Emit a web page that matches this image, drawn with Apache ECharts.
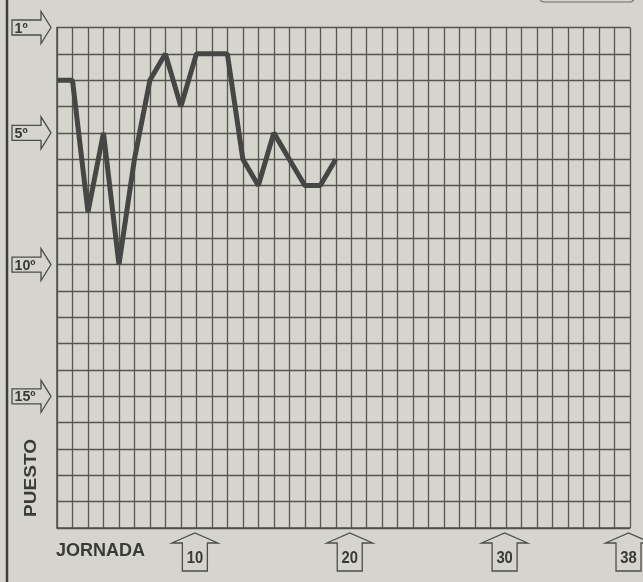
<!DOCTYPE html>
<html>
<head>
<meta charset="utf-8">
<script src="https://cdn.jsdelivr.net/npm/echarts@6/dist/echarts.min.js"></script>
<style>
html,body{margin:0;padding:0;background:#d5d5cd;}
#c{width:643px;height:582px;}
</style>
</head>
<body>
<div id="c"></div>
<script>
// Data
const jornadas = [1,2,3,4,5,6,7,8,9,10,11,12,13,14,15,16,17,18,19];
const puestos  = [3,3,8,5,10,6,3,2,4,2,2,2,6,7,5,6,7,7,6];
const yTickValues = [1,5,10,15];
const yTickLabels = ['1º','5º','10º','15º'];
const xTickValues = [10,20,30,38];
const xTickLabels = ['10','20','30','38'];

const BG = '#d5d5cd';
const TXT = '#3a3a36';
const FONT = "'Liberation Sans',Arial,sans-serif";

const chart = echarts.init(document.getElementById('c'), null, {renderer:'canvas'});

const option = {
  backgroundColor: BG,
  animation: false,
  grid: {left: 57, right: 13, top: 27.5, bottom: 54, containLabel: false},
  xAxis: {
    type: 'value', min: 1, max: 38, interval: 1,
    axisLabel: {show: false}, axisTick: {show: false},
    axisLine: {show: true, lineStyle: {color: '#50504b', width: 1.5}},
    splitLine: {show: true, lineStyle: {color: '#56564f', width: 1.3}}
  },
  yAxis: {
    type: 'value', min: 1, max: 20, interval: 1, inverse: true,
    axisLabel: {show: false}, axisTick: {show: false},
    axisLine: {show: true, lineStyle: {color: '#50504b', width: 1.5}},
    splitLine: {show: true, lineStyle: {color: '#56564f', width: 1.3}}
  },
  graphic: [
    {type: 'line', shape: {x1: 7, y1: 0, x2: 7, y2: 582}, style: {stroke: '#3e3e3a', lineWidth: 2.5}},
    {type: 'rect', shape: {x: 540, y: -20, width: 94, height: 22, r: 4}, style: {fill: 'none', stroke: '#6a6a64', lineWidth: 1.2}},
    {type: 'text', x: 56, y: 551, style: {text: 'JORNADA', font: 'bold 18px ' + FONT, fill: TXT, align: 'left', verticalAlign: 'middle'}},
    {type: 'text', x: 31, y: 478, rotation: Math.PI / 2, scaleX: 1.12,
     style: {text: 'PUESTO', font: 'bold 17px ' + FONT, fill: TXT, align: 'center', verticalAlign: 'middle'}}
  ],
  series: [
    {
      type: 'line',
      data: jornadas.map((j, i) => [j, puestos[i]]),
      symbol: 'none',
      lineStyle: {color: '#464644', width: 5},
      z: 5
    },
    {
      type: 'custom',
      coordinateSystem: 'cartesian2d',
      data: yTickValues.map(v => [1, v]),
      z: 6,
      renderItem: function (params, api) {
        const p = api.coord([api.value(0), api.value(1)]);
        const cy = p[1];
        const left = p[0] - 45, base = p[0] - 16, tip = p[0] - 6;
        const hb = 7.5, hh = 16;
        return {
          type: 'group',
          children: [
            {type: 'polygon', shape: {points: [[left, cy - hb], [base, cy - hb], [base, cy - hh], [tip, cy], [base, cy + hh], [base, cy + hb], [left, cy + hb]]},
             style: {fill: BG, stroke: '#4e4e49', lineWidth: 1.3}},
            {type: 'text', x: left + 2.5, y: cy + 1, scaleX: 0.95,
             style: {text: yTickLabels[params.dataIndex], x: 0, y: 0, verticalAlign: 'middle', align: 'left', font: 'bold 15px ' + FONT, fill: TXT}}
          ]
        };
      }
    },
    {
      type: 'custom',
      coordinateSystem: 'cartesian2d',
      data: xTickValues.map(v => [v, 20]),
      z: 6,
      renderItem: function (params, api) {
        const p = api.coord([api.value(0), api.value(1)]);
        const cx = p[0] - 1.5;
        const top = p[1] + 5;
        const hw = 23, sw = 12.5, hd = 10, len = 38;
        return {
          type: 'group',
          children: [
            {type: 'polygon', shape: {points: [[cx - hw, top + hd], [cx, top], [cx + hw, top + hd], [cx + sw, top + hd], [cx + sw, top + len], [cx - sw, top + len], [cx - sw, top + hd]]},
             style: {fill: BG, stroke: '#4e4e49', lineWidth: 1.3}},
            {type: 'text', x: cx, y: top + 25, scaleX: 0.87,
             style: {text: xTickLabels[params.dataIndex], x: 0, y: 0, verticalAlign: 'middle', align: 'center', font: 'bold 17px ' + FONT, fill: TXT}}
          ]
        };
      }
    }
  ]
};
chart.setOption(option);
</script>
</body>
</html>
